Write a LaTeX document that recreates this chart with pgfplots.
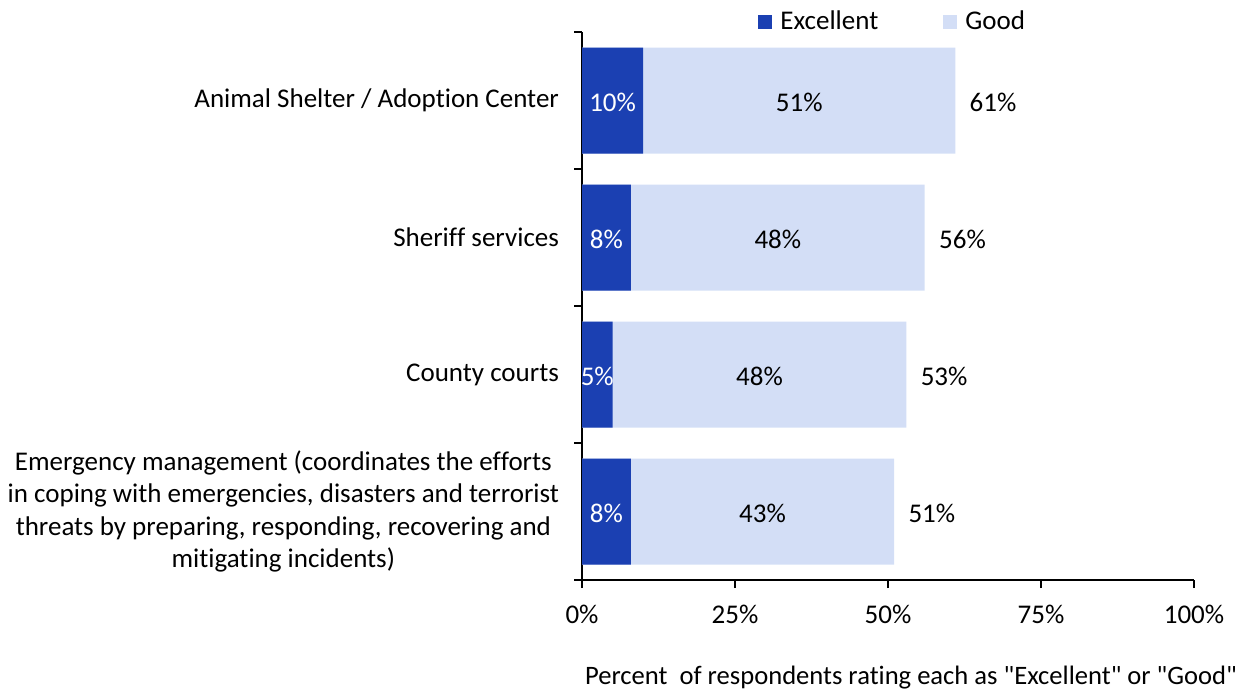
\documentclass[border=0pt]{standalone}
\usepackage{fontspec}
\setmainfont{Carlito}[Ligatures={NoCommon}, RawFeature={-liga}, RawFeature={-calt}]
\newfontfamily\qfont{Carlito}[RawFeature={-liga}]
\usepackage{pgfplots}
\usepackage{pgfplotstable}
\pgfplotsset{compat=1.18}
\definecolor{darkb}{RGB}{27,64,178}
\definecolor{lightb}{RGB}{211,222,246}
\newcommand{\sq}{{\qfont"}}
\newcommand{\nk}{\kern0pt{}}
\pgfplotstableread{
y exc good total
3 10 51 61
2 8 48 56
1 5 48 53
0 8 43 51
}\datatab
\begin{document}
\begin{tikzpicture}[font=\fontsize{13.5}{16.2}\selectfont]
\begin{axis}[
  at={(291pt,56pt)}, anchor=south west,
  scale only axis, width=306pt, height=274pt,
  xmin=0, xmax=100, ymin=-0.5, ymax=3.5,
  axis x line*=bottom, axis y line*=left,
  axis line style={-, black, line width=0.6pt},
  tick align=outside, major tick length=4pt,
  tick style={black, line width=0.6pt},
  xtick={0,25,50,75,100},
  xticklabels={0\%,25\%,50\%,75\%,100\%},
  xticklabel style={yshift=-5pt},
  ytick={-0.5,0.5,1.5,2.5,3.5}, yticklabels={},
  extra y ticks={0,1,2,3},
  extra y tick labels={{Emergency management (coordinates the ef\nk forts\\in coping with emergencies, disasters and terrorist\\threats by preparing, responding, recovering and\\mit\nk igat\nk ing incidents)},County courts,Sherif\nk f services,Animal Shelter / Adopt\nk ion Center},
  extra y tick style={major tick length=0pt, yticklabel style={align=center, anchor=east, xshift=-8pt}},
  xlabel={Percent~ of respondents rating each as \sq Excellent\sq{} or \sq Good\sq},
  xlabel style={at={(axis description cs:0,0)}, anchor=base west, yshift=-52pt, xshift=-2pt, font=\fontsize{13.3}{16}\selectfont},
  reverse legend,
  legend columns=2,
  legend style={draw=none, fill=none, inner sep=0pt, at={(axis description cs:0.2876,1)}, anchor=west, yshift=5pt,
    nodes={inner sep=0pt},
    /tikz/every odd column/.append style={column sep=4pt},
    /tikz/every even column/.append style={column sep=32.5pt}},
  legend image code/.code={\fill[#1] (0pt,-3.5pt) rectangle (7pt,3.5pt);},
]
\addplot[xbar, bar shift=0pt, bar width=53pt, fill=lightb, draw=none] table[x=total, y=y] {\datatab};
\addlegendentry{Good}
\addplot[xbar, bar shift=0pt, bar width=53pt, fill=darkb, draw=none] table[x=exc, y=y] {\datatab};
\addlegendentry{Excellent}
\addplot[forget plot, only marks, mark=none, point meta=explicit, nodes near coords={\pgfmathprintnumber[assume math mode=true]{\pgfplotspointmeta}\%},
  nodes near coords style={white, anchor=center, yshift=-1pt}]
  table[x expr=\thisrow{exc}/2, y=y, meta=exc] {\datatab};
\addplot[forget plot, only marks, mark=none, point meta=explicit, nodes near coords={\pgfmathprintnumber[assume math mode=true]{\pgfplotspointmeta}\%},
  nodes near coords style={black, anchor=center, yshift=-1pt}]
  table[x expr=\thisrow{exc}+\thisrow{good}/2, y=y, meta=good] {\datatab};
\addplot[forget plot, only marks, mark=none, point meta=explicit, nodes near coords={\pgfmathprintnumber[assume math mode=true]{\pgfplotspointmeta}\%},
  nodes near coords style={black, anchor=west, inner sep=0pt, xshift=7pt, yshift=-1pt}]
  table[x=total, y=y, meta=total] {\datatab};
\end{axis}
\pgfresetboundingbox
\useasboundingbox (0,0) rectangle (625.5pt,346pt);
\end{tikzpicture}
\end{document}
